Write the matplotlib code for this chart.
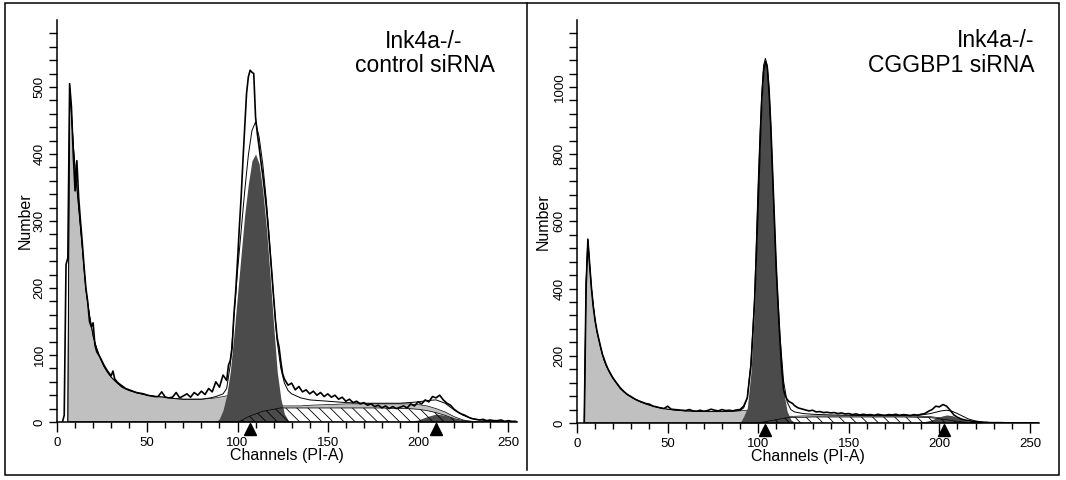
import matplotlib
matplotlib.use("Agg")
import matplotlib.pyplot as plt
from matplotlib.lines import Line2D
from matplotlib.patches import Rectangle


W, H = 1066, 480

# ---- left panel: Ink4a-/- control siRNA ----
ch_fit_l = [
    6, 7, 8, 9, 10, 11, 12, 13, 14, 15,
    16, 17, 18, 19, 20, 22, 24, 26, 28, 30,
    33, 36, 40, 45, 50, 55, 60, 65, 70, 75,
    80, 85, 88, 90, 92, 94, 96, 98, 100, 102,
    104, 106, 108, 110, 112, 114, 116, 118, 120, 122,
    124, 126, 128, 130, 135, 140, 150, 160, 170, 180,
    190, 195, 200, 205, 210, 215, 220, 225, 230, 235,
    240, 245, 250, 255]
debris_l = [
    0, 500, 460, 415, 380, 350, 320, 290, 260, 228,
    198, 178, 160, 144, 128, 110, 95, 83, 74, 67,
    59, 52, 47, 43, 40, 38, 37, 35, 34, 34,
    34, 35, 36, 37, 38, 39, 40, 41, 42, 41,
    40, 39, 38, 37, 35, 33, 31, 29, 27, 25,
    24, 24, 24, 24, 24, 25, 26, 27, 27, 27,
    27, 27, 26, 24, 20, 15, 8, 3, 1, 0,
    0, 0, 0, 0]
sphase_l = [
    0, 0, 0, 0, 0, 0, 0, 0, 0, 0,
    0, 0, 0, 0, 0, 0, 0, 0, 0, 0,
    0, 0, 0, 0, 0, 0, 0, 0, 0, 0,
    0, 0, 0, 0, 0, 0, 0, 0, 0, 2,
    5, 8, 10, 12, 14, 16, 17, 18, 19, 20,
    21, 21, 21, 21, 21, 21, 21, 21, 21, 21,
    20, 20, 19, 17, 14, 10, 5, 2, 0, 0,
    0, 0, 0, 0]
g1_l = [
    0, 0, 0, 0, 0, 0, 0, 0, 0, 0,
    0, 0, 0, 0, 0, 0, 0, 0, 0, 0,
    0, 0, 0, 0, 0, 0, 0, 0, 0, 0,
    0, 0, 0, 5, 18, 40, 75, 130, 190, 250,
    310, 355, 390, 400, 385, 345, 290, 220, 145, 75,
    35, 12, 3, 0, 0, 0, 0, 0, 0, 0,
    0, 0, 0, 0, 0, 0, 0, 0, 0, 0,
    0, 0, 0, 0]
g2_l = [
    0, 0, 0, 0, 0, 0, 0, 0, 0, 0,
    0, 0, 0, 0, 0, 0, 0, 0, 0, 0,
    0, 0, 0, 0, 0, 0, 0, 0, 0, 0,
    0, 0, 0, 0, 0, 0, 0, 0, 0, 0,
    0, 0, 0, 0, 0, 0, 0, 0, 0, 0,
    0, 0, 0, 0, 0, 0, 0, 0, 0, 0,
    0, 1, 3, 8, 12, 10, 5, 2, 0, 0,
    0, 0, 0, 0]
model_l = [
    0, 500, 460, 415, 380, 350, 320, 290, 260, 228,
    198, 178, 160, 144, 128, 110, 95, 83, 74, 67,
    59, 52, 47, 43, 40, 38, 37, 35, 34, 34,
    34, 36, 38, 40, 42, 50, 85, 155, 225, 285,
    345, 398, 435, 448, 425, 385, 330, 260, 185, 120,
    80, 58, 47, 42, 36, 33, 31, 29, 28, 28,
    28, 29, 30, 32, 33, 28, 18, 10, 5, 3,
    1, 0, 0, 0]

ch_dat_l = [
    3, 4, 5, 6, 7, 8, 9, 10, 11, 12,
    13, 14, 15, 16, 17, 18, 19, 20, 21, 22,
    24, 26, 28, 30, 31, 32, 34, 36, 38, 40,
    42, 44, 46, 48, 50, 52, 54, 56, 58, 60,
    62, 64, 66, 68, 70, 72, 74, 76, 78, 80,
    82, 84, 86, 88, 90, 92, 94, 95, 96, 97,
    98, 99, 100, 101, 102, 103, 104, 105, 106, 107,
    108, 109, 110, 111, 112, 113, 114, 115, 116, 117,
    118, 119, 120, 121, 122, 123, 124, 125, 126, 128,
    130, 132, 134, 136, 138, 140, 142, 144, 146, 148,
    150, 152, 154, 156, 158, 160, 162, 164, 166, 168,
    170, 172, 174, 176, 178, 180, 182, 184, 186, 188,
    190, 192, 194, 196, 198, 200, 202, 204, 206, 208,
    210, 212, 214, 216, 218, 220, 222, 224, 226, 228,
    230, 232, 234, 236, 238, 240, 242, 244, 246, 248,
    250, 252, 254]
dat_l = [
    0, 10, 235, 245, 505, 470, 400, 345, 390, 335,
    300, 268, 232, 200, 180, 150, 142, 148, 115, 105,
    96, 85, 76, 69, 76, 64, 58, 54, 50, 48,
    46, 44, 43, 42, 40, 39, 38, 38, 45, 37,
    36, 37, 44, 36, 39, 42, 37, 44, 40, 46,
    41, 50, 45, 60, 52, 70, 62, 85, 92, 110,
    160, 195, 240, 290, 335, 390, 440, 490, 515, 525,
    522, 520, 455, 430, 410, 388, 368, 345, 320, 290,
    255, 222, 188, 152, 125, 112, 90, 72, 64, 55,
    58, 48, 53, 45, 48, 42, 46, 40, 44, 38,
    42, 37, 40, 34, 37, 31, 34, 29, 31, 27,
    29, 25, 27, 23, 25, 21, 24, 20, 23, 20,
    22, 24, 21, 27, 24, 30, 27, 33, 30, 38,
    36, 40, 33, 28, 25, 19, 15, 12, 10, 7,
    5, 4, 3, 4, 2, 3, 2, 2, 3, 1,
    2, 1, 1]
peaks_l = [106.7, 210]

# ---- right panel: Ink4a-/- CGGBP1 siRNA ----
ch_fit_r = [
    4, 5, 6, 7, 8, 9, 10, 11, 12, 13,
    14, 15, 16, 18, 20, 22, 24, 27, 30, 35,
    40, 45, 50, 55, 60, 65, 70, 75, 80, 85,
    90, 92, 94, 96, 98, 100, 101, 102, 103, 104,
    105, 106, 107, 108, 109, 110, 112, 114, 116, 118,
    120, 125, 130, 140, 150, 160, 170, 180, 190, 195,
    198, 201, 204, 207, 210, 213, 216, 220, 225, 230,
    240, 255]
debris_r = [
    0, 420, 548, 470, 400, 350, 305, 272, 250, 225,
    205, 186, 172, 150, 132, 117, 102, 88, 77, 63,
    53, 46, 41, 38, 36, 35, 34, 34, 34, 35,
    36, 37, 37, 37, 36, 35, 34, 33, 32, 31,
    30, 29, 28, 27, 26, 25, 23, 21, 20, 20,
    20, 21, 21, 21, 21, 21, 21, 21, 20, 19,
    17, 15, 12, 9, 6, 4, 2, 1, 0, 0,
    0, 0]
sphase_r = [
    0, 0, 0, 0, 0, 0, 0, 0, 0, 0,
    0, 0, 0, 0, 0, 0, 0, 0, 0, 0,
    0, 0, 0, 0, 0, 0, 0, 0, 0, 0,
    0, 0, 0, 0, 0, 0, 1, 2, 3, 4,
    5, 6, 7, 8, 9, 10, 12, 14, 16, 16,
    17, 17, 18, 18, 18, 18, 18, 18, 17, 16,
    14, 12, 10, 7, 5, 3, 1, 0, 0, 0,
    0, 0]
g1_r = [
    0, 0, 0, 0, 0, 0, 0, 0, 0, 0,
    0, 0, 0, 0, 0, 0, 0, 0, 0, 0,
    0, 0, 0, 0, 0, 0, 0, 0, 0, 0,
    0, 20, 45, 150, 340, 686, 833, 959, 1045, 1080,
    1057, 980, 861, 716, 565, 422, 230, 95, 35, 10,
    2, 0, 0, 0, 0, 0, 0, 0, 0, 0,
    0, 0, 0, 0, 0, 0, 0, 0, 0, 0,
    0, 0]
g2_r = [
    0, 0, 0, 0, 0, 0, 0, 0, 0, 0,
    0, 0, 0, 0, 0, 0, 0, 0, 0, 0,
    0, 0, 0, 0, 0, 0, 0, 0, 0, 0,
    0, 0, 0, 0, 0, 0, 0, 0, 0, 0,
    0, 0, 0, 0, 0, 0, 0, 0, 0, 0,
    0, 0, 0, 0, 0, 0, 0, 0, 2, 8,
    14, 20, 24, 22, 16, 10, 5, 2, 0, 0,
    0, 0]
model_r = [
    0, 420, 548, 470, 400, 350, 305, 272, 250, 225,
    205, 186, 172, 150, 132, 117, 102, 88, 77, 63,
    53, 46, 41, 38, 36, 35, 34, 34, 34, 35,
    37, 45, 75, 180, 370, 715, 862, 985, 1065, 1085,
    1065, 995, 880, 740, 595, 455, 262, 125, 62, 40,
    33, 28, 26, 24, 23, 22, 22, 22, 24, 28,
    32, 36, 38, 35, 28, 20, 12, 6, 2, 1,
    0, 0]

ch_dat_r = [
    4, 5, 6, 7, 8, 9, 10, 11, 12, 13,
    14, 15, 16, 17, 18, 19, 20, 22, 24, 26,
    28, 30, 32, 34, 36, 38, 40, 42, 44, 46,
    48, 50, 52, 54, 56, 58, 60, 62, 64, 66,
    68, 70, 72, 74, 76, 78, 80, 82, 84, 86,
    88, 90, 92, 94, 96, 97, 98, 99, 100, 101,
    102, 103, 104, 105, 106, 107, 108, 109, 110, 111,
    112, 113, 114, 115, 116, 117, 118, 119, 120, 122,
    124, 126, 128, 130, 132, 134, 136, 138, 140, 142,
    144, 146, 148, 150, 152, 154, 156, 158, 160, 162,
    164, 166, 168, 170, 172, 174, 176, 178, 180, 182,
    184, 186, 188, 190, 192, 194, 196, 198, 200, 202,
    204, 206, 208, 210, 212, 214, 216, 218, 220, 222,
    224, 226, 228, 230, 234, 240, 254]
dat_r = [
    0, 400, 545, 470, 400, 345, 305, 275, 250, 228,
    205, 190, 175, 162, 152, 142, 133, 118, 104, 93,
    84, 78, 71, 66, 62, 58, 56, 50, 48, 45,
    43, 50, 41, 40, 39, 38, 37, 40, 36, 35,
    38, 35, 37, 41, 38, 36, 40, 37, 38, 36,
    39, 40, 50, 75, 170, 260, 360, 500, 660, 820,
    960, 1045, 1075, 1060, 990, 880, 740, 600, 460, 350,
    250, 160, 100, 80, 70, 64, 61, 58, 52, 45,
    42, 39, 36, 38, 33, 34, 31, 32, 30, 31,
    28, 30, 27, 28, 25, 27, 24, 26, 24, 25,
    23, 26, 24, 23, 25, 24, 26, 23, 25, 24,
    22, 25, 23, 26, 28, 35, 40, 50, 48, 55,
    50, 38, 24, 17, 12, 9, 7, 5, 4, 3,
    2, 2, 1, 1, 1, 0, 0]
peaks_r = [103.7, 202.5]

LIGHT = "#c0c0c0"
DARK = "#4b4b4b"

plt.rcParams["font.family"] = ["Liberation Sans", "DejaVu Sans"]
plt.rcParams["hatch.linewidth"] = 0.6


def draw_panel(ax, ch_fit, debris, sphase, g1, g2, model, ch_dat, dat, peaks,
               ymax, ymajor, yminor):
    ax.fill_between(ch_fit, sphase, debris, color=LIGHT, lw=0, zorder=1)
    ax.plot(ch_fit, debris, color="black", lw=0.5, zorder=1.5)
    ax.fill_between(ch_fit, 0, g1, color=DARK, lw=0, zorder=2)
    ax.fill_between(ch_fit, 0, g2, color=DARK, lw=0, zorder=2)
    ax.fill_between(ch_fit, 0, sphase, facecolor="none", edgecolor="black",
                    hatch="\\" * 3, lw=0.5, zorder=3)
    ax.plot(ch_fit, model, color="black", lw=0.7, zorder=4)
    ax.plot(ch_dat, dat, color="black", lw=1.2, zorder=5)
    ax.plot(peaks, [-0.018] * len(peaks), marker="^", ls="none", color="black",
            ms=9, transform=ax.get_xaxis_transform(), clip_on=False, zorder=6)

    ax.set_xlim(0, 255)
    ax.set_ylim(0, ymax)
    for side in ("top", "right"):
        ax.spines[side].set_visible(False)
    for side in ("left", "bottom"):
        ax.spines[side].set_linewidth(1.1)
    ax.set_xticks(range(0, 251, 50))
    ax.set_xticks(range(0, 251, 10), minor=True)
    ax.set_yticks(range(0, ymajor * 5 + 1, ymajor))
    ax.set_yticks(range(0, ymax, yminor), minor=True)
    ax.tick_params(axis="x", which="major", direction="out", length=7.5,
                   width=1.0, pad=3, labelsize=9.5)
    ax.tick_params(axis="x", which="minor", direction="out", length=4.5,
                   width=1.0)
    ax.tick_params(axis="y", which="both", direction="out", length=5.8,
                   width=1.0, pad=2.5, labelsize=9.5)
    for lab in ax.get_yticklabels():
        lab.set_rotation(90)
        lab.set_va("center")
    ax.set_xlabel("Channels (PI-A)", fontsize=11.5)
    ax.set_ylabel("Number", fontsize=11.5)


fig = plt.figure(figsize=(W / 100, H / 100), dpi=100)

# axes placed in pixel units of the 1066x480 figure
ax_l = fig.add_axes([57 / W, 1 - 422 / H, 460.3 / W, 402 / H])
ax_r = fig.add_axes([577 / W, 1 - 423 / H, 462 / W, 403.2 / H])

draw_panel(ax_l, ch_fit_l, debris_l, sphase_l, g1_l, g2_l, model_l,
           ch_dat_l, dat_l, peaks_l, 600, 100, 20)
draw_panel(ax_r, ch_fit_r, debris_r, sphase_r, g1_r, g2_r, model_r,
           ch_dat_r, dat_r, peaks_r, 1200, 200, 40)

ax_l.xaxis.set_label_coords(0.5, -0.065)
ax_r.xaxis.set_label_coords(0.5, -0.065)
ax_l.yaxis.set_label_coords(-0.052, 0.5)
ax_r.yaxis.set_label_coords(-0.056, 0.5)

fig.text(424 / W, 1 - 48 / H, "Ink4a-/-", ha="center", va="baseline", fontsize=16.5)
fig.text(425 / W, 1 - 72 / H, "control siRNA", ha="center", va="baseline", fontsize=16.5)
fig.text(1034 / W, 1 - 47 / H, "Ink4a-/-", ha="right", va="baseline", fontsize=16.5)
fig.text(1035 / W, 1 - 72 / H, "CGGBP1 siRNA", ha="right", va="baseline", fontsize=16.5)

fig.add_artist(Rectangle((5 / W, 1 - 475 / H), 1054 / W, 472 / H, fill=False,
                         lw=1.1, edgecolor="black", transform=fig.transFigure))
fig.add_artist(Line2D([527 / W, 527 / W], [1 - 3 / H, 1 - 470 / H], lw=1.1,
                      color="black", transform=fig.transFigure))

fig.savefig("out.png", dpi=100)
